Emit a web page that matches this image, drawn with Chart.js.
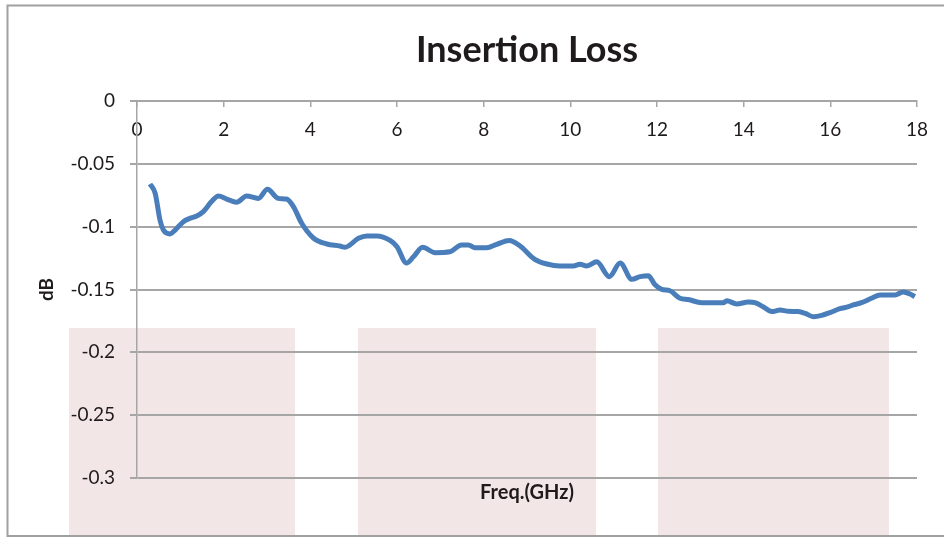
<!DOCTYPE html>
<html>
<head>
<meta charset="utf-8">
<script src="https://cdn.jsdelivr.net/npm/chart.js@4/dist/chart.umd.min.js"></script>
<style>
  html, body { margin: 0; padding: 0; background: #fff; }
  canvas { display: block; }
</style>
</head>
<body>
<canvas id="ChartLoss" width="944" height="537"></canvas>
<script>
// DATA
const freqGHz = [0.30, 0.42, 0.53, 0.61, 0.76, 0.88, 1.07, 1.22, 1.38, 1.53, 1.72, 1.88, 2.07, 2.30, 2.53, 2.80,
  3.01, 3.26, 3.45, 3.61, 3.80, 4.07, 4.38, 4.68, 4.80, 5.11, 5.30, 5.53, 5.84, 6.00, 6.22, 6.38, 6.59, 6.88,
  7.22, 7.49, 7.65, 7.80, 8.07, 8.30, 8.59, 8.84, 9.18, 9.46, 9.76, 10.07, 10.22, 10.38, 10.61, 10.90, 11.15,
  11.42, 11.61, 11.80, 11.95, 12.11, 12.30, 12.53, 12.72, 13.03, 13.53, 13.61, 13.84, 14.11, 14.26, 14.45,
  14.65, 14.84, 15.03, 15.26, 15.42, 15.61, 15.80, 15.99, 16.22, 16.42, 16.53, 16.72, 16.95, 17.15, 17.49,
  17.68, 17.84, 17.95];
const lossDB = [-0.066, -0.0735, -0.0947, -0.1027, -0.1058, -0.1027, -0.096, -0.0934, -0.0915, -0.088, -0.080,
  -0.0756, -0.078, -0.0806, -0.0756, -0.0775, -0.0703, -0.0775, -0.078, -0.084, -0.0973, -0.109, -0.1138,
  -0.1154, -0.1164, -0.1093, -0.1074, -0.1074, -0.111, -0.116, -0.129, -0.124, -0.1164, -0.1207, -0.120,
  -0.1146, -0.1146, -0.1167, -0.1167, -0.114, -0.111, -0.1154, -0.126, -0.1297, -0.1313, -0.1313, -0.130,
  -0.1313, -0.128, -0.1398, -0.129, -0.1419, -0.1398, -0.139, -0.146, -0.1499, -0.151, -0.157, -0.158,
  -0.1605, -0.1605, -0.159, -0.1615, -0.160, -0.1605, -0.1637, -0.1676, -0.1663, -0.1674, -0.1676, -0.169,
  -0.1716, -0.1706, -0.1684, -0.1653, -0.1637, -0.1623, -0.1605, -0.157, -0.1544, -0.1544, -0.152, -0.1536,
  -0.1557];
const xRange = [0, 18];
const yRange = [-0.3, 0];

const points = freqGHz.map((f, i) => ({x: f, y: lossDB[i]}));

// background: pink blocks + frame, like the pasted picture
const backdrop = {
    id: 'backdrop',
    beforeDraw(chart) {
        const c = chart.ctx;
        c.save();
        c.fillStyle = '#f3e6e6';
        c.fillRect(69, 328, 226, 215);
        c.fillRect(358, 328, 238, 215);
        c.fillRect(658, 328, 231, 215);
        c.strokeStyle = '#a0a0a0';
        c.lineWidth = 2;
        c.strokeRect(7.5, 5.5, 950, 530.5);
        c.restore();
    }
};

const gridGray = '#a6a6a6';
const textCol = '#1f1b1c';

var ctx = document.getElementById('ChartLoss');

var myChart = new Chart(ctx, {
    type: 'scatter',
    data: {
        datasets: [{
            label: 'Insertion Loss',
            data: points,
            showLine: true,
            borderColor: '#4a7ebb',
            borderWidth: 5,
            pointRadius: 0,
            cubicInterpolationMode: 'monotone',
            fill: false
        }]
    },
    options: {
        responsive: false,
        animation: false,
        layout: {padding: {left: 0, right: 27, top: 0, bottom: 32}},
        plugins: {
            legend: {display: false},
            tooltip: {enabled: false},
            title: {
                display: true,
                text: 'Insertion Loss',
                fullSize: false,
                color: textCol,
                font: {family: 'Lato', size: 36, weight: 'bold'},
                padding: {top: 28.4, bottom: 29.4}
            }
        },
        scales: {
            x: {
                type: 'linear',
                position: {y: 0},
                min: xRange[0],
                max: xRange[1],
                afterFit(s) { s.height = 0; },
                ticks: {
                    stepSize: 2,
                    padding: 12,
                    color: textCol,
                    font: {family: 'Lato', size: 19},
                    maxRotation: 0
                },
                grid: {drawOnChartArea: false, drawTicks: true, tickLength: 5, color: gridGray, lineWidth: 1.5},
                border: {display: true, color: gridGray, width: 2}
            },
            x2: {
                type: 'linear',
                position: 'bottom',
                axis: 'x',
                min: xRange[0],
                max: xRange[1],
                afterFit(s) { s.height = 27; },
                ticks: {display: false},
                grid: {display: false, drawTicks: false},
                border: {display: false},
                title: {
                    display: true,
                    text: 'Freq.(GHz)',
                    color: textCol,
                    font: {family: 'Lato', size: 20, weight: 'bold'},
                    padding: {top: 3, bottom: 0}
                }
            },
            y: {
                type: 'linear',
                position: 'left',
                min: yRange[0],
                max: yRange[1],
                afterFit(s) { s.width = 137; },
                ticks: {
                    stepSize: 0.05,
                    padding: 15,
                    color: textCol,
                    font: {family: 'Lato', size: 19},
                    callback: v => String(+v.toFixed(2))
                },
                grid: {color: gridGray, lineWidth: 2, drawTicks: true, tickLength: 7},
                border: {display: true, color: gridGray, width: 1.5},
                title: {
                    display: true,
                    text: 'dB',
                    color: textCol,
                    font: {family: 'Lato', size: 19, weight: 'bold'},
                    padding: {top: 35.6, bottom: 0}
                }
            }
        }
    },
    plugins: [backdrop]
});
</script>
</body>
</html>
